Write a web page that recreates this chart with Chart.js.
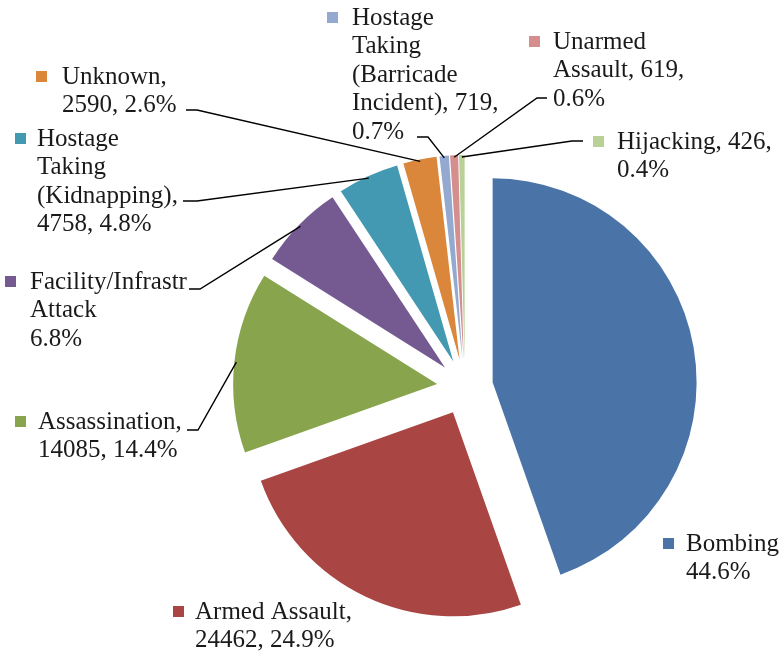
<!DOCTYPE html>
<html>
<head>
<meta charset="utf-8">
<script src="https://cdn.jsdelivr.net/npm/chart.js@4/dist/chart.umd.min.js"></script>
<style>
  html, body { margin: 0; padding: 0; background: #fff; font-family: "Liberation Serif"; }
  #wrap { width: 780px; height: 652px; position: relative; }
</style>
</head>
<body>
<div id="wrap"><canvas id="pie"></canvas></div>
<script>
const categories = [
    'Bombing', 'Armed Assault', 'Assassination', 'Facility/Infrastructure Attack',
    'Hostage Taking (Kidnapping)', 'Unknown', 'Hostage Taking (Barricade Incident)',
    'Unarmed Assault', 'Hijacking'
];
const incidents = [43737, 24462, 14085, 6668, 4758, 2590, 719, 619, 426];
const labelLines = [
    ['Bombing', '44.6%'],
    ['Armed Assault,', '24462, 24.9%'],
    ['Assassination,', '14085, 14.4%'],
    ['Facility/Infrastr', 'Attack', '6.8%'],
    ['Hostage', 'Taking', '(Kidnapping),', '4758, 4.8%'],
    ['Unknown,', '2590, 2.6%'],
    ['Hostage', 'Taking', '(Barricade', 'Incident), 719,', '0.7%'],
    ['Unarmed', 'Assault, 619,', '0.6%'],
    ['Hijacking, 426,', '0.4%']
];
const colors = ['#4a73a7', '#a94644', '#88a54e', '#755a91', '#4399b1', '#db873b', '#94a9d0', '#d48e8d', '#b9d097'];

const RADIUS = 204;
// every slice pulled out from the centre by the same distance
const EXPLODE = 28;

// label placement: marker x, text x, first line centre y, leader [startX, elbowX, y] or null
const labelPos = [
    { mx: 663, tx: 686, y: 544, lead: null },
    { mx: 173, tx: 195, y: 612, lead: null },
    { mx: 15, tx: 38, y: 422, lead: [187, 198, 430] },
    { mx: 5, tx: 30, y: 282, lead: [189, 200, 289] },
    { mx: 15, tx: 37, y: 139, lead: [183, 197, 201] },
    { mx: 36, tx: 62, y: 77, lead: [186, 197, 110] },
    { mx: 327, tx: 352, y: 18, lead: [417, 428, 137] },
    { mx: 529, tx: 553, y: 42, lead: [547, 537, 98] },
    { mx: 593, tx: 617, y: 142, lead: [583, 572, 141] }
];

const LINE_H = 28.5;

// chart.js's own offset also widens the radius and trims thin slices away,
// so move each arc's centre out along its mid angle instead
const explode = {
    id: 'explode',
    afterUpdate(chart) {
        chart.getDatasetMeta(0).data.forEach(arc => {
            const mid = (arc.startAngle + arc.endAngle) / 2;
            arc.x += Math.cos(mid) * EXPLODE;
            arc.y += Math.sin(mid) * EXPLODE;
        });
    }
};

const sliceLabels = {
    id: 'sliceLabels',
    afterDatasetsDraw(chart) {
        const ctx = chart.ctx;
        const arcs = chart.getDatasetMeta(0).data;
        ctx.save();
        ctx.strokeStyle = '#000';
        ctx.lineWidth = 1.4;
        arcs.forEach((arc, i) => {
            const p = labelPos[i];
            if (!p.lead) return;
            const mid = (arc.startAngle + arc.endAngle) / 2;
            const r = arc.outerRadius - 2;
            const ex = arc.x + Math.cos(mid) * r;
            const ey = arc.y + Math.sin(mid) * r;
            ctx.beginPath();
            ctx.moveTo(p.lead[0], p.lead[2]);
            ctx.lineTo(p.lead[1], p.lead[2]);
            ctx.lineTo(ex, ey);
            ctx.stroke();
        });

        ctx.font = '25px "Liberation Serif"';
        ctx.textBaseline = 'middle';
        ctx.textAlign = 'left';
        labelPos.forEach((p, i) => {
            ctx.fillStyle = colors[i];
            ctx.fillRect(p.mx, p.y - 6, 11, 11);
            ctx.fillStyle = '#1a1a1a';
            labelLines[i].forEach((line, j) => {
                ctx.fillText(line, p.tx, p.y + j * LINE_H);
            });
        });
        ctx.restore();
    }
};

new Chart(document.getElementById('pie'), {
    type: 'pie',
    data: {
        labels: categories,
        datasets: [{
            data: incidents,
            backgroundColor: colors,
            borderWidth: 0
        }]
    },
    options: {
        responsive: true,
        maintainAspectRatio: false,
        animation: false,
        radius: RADIUS,
        layout: { padding: { left: 150, right: 0, top: 122, bottom: 0 } },
        plugins: {
            legend: { display: false },
            tooltip: { enabled: false }
        }
    },
    plugins: [explode, sliceLabels]
});
</script>
</body>
</html>
